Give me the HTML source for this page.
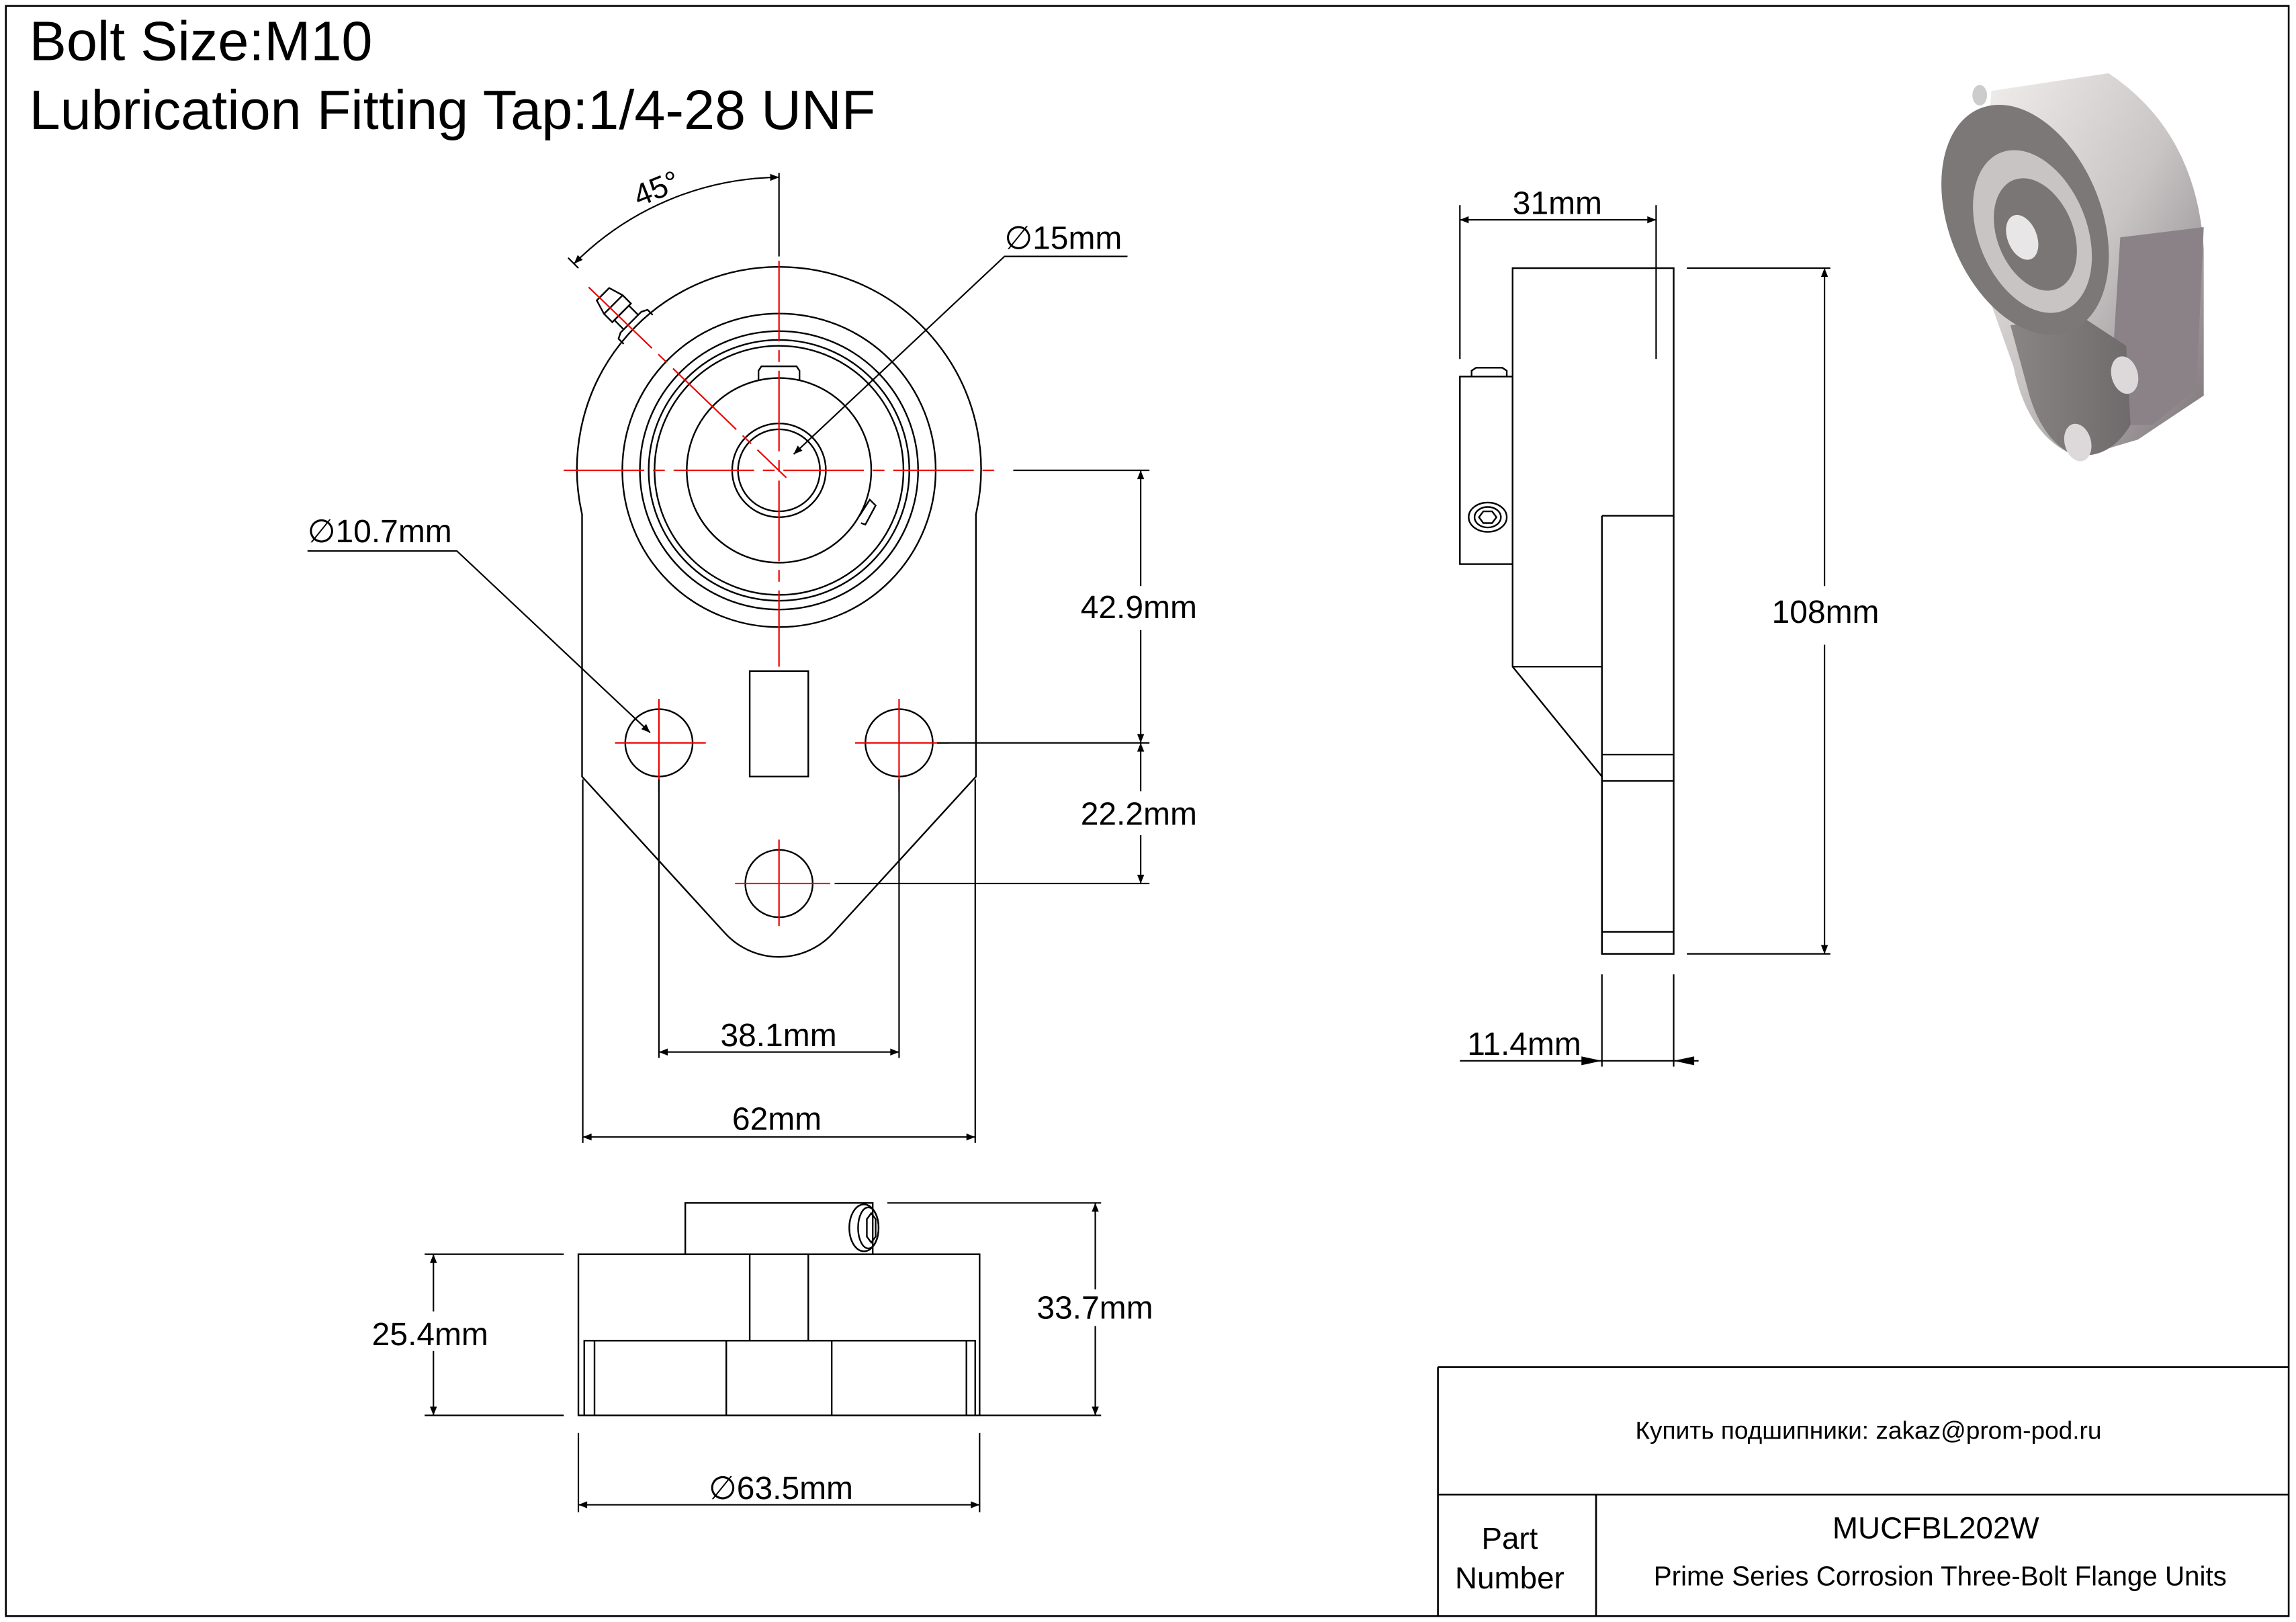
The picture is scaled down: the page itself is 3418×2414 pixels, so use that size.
<!DOCTYPE html>
<html><head><meta charset="utf-8"><style>
html,body{margin:0;padding:0;background:#fff;}
svg{display:block;}
text{font-family:"Liberation Sans",sans-serif;fill:#000;}
</style></head><body>
<svg width="3418" height="2414" viewBox="0 0 1568 1107" preserveAspectRatio="none" xmlns="http://www.w3.org/2000/svg">
<defs>
<marker id="a" viewBox="0 0 10 10" refX="10" refY="5" markerWidth="14" markerHeight="6" orient="auto-start-reverse" markerUnits="userSpaceOnUse"><path d="M0,1 L10,5 L0,9 z" fill="#000"/></marker>
<linearGradient id="g1" x1="0" y1="0" x2="1" y2="1"><stop offset="0" stop-color="#f2efee"/><stop offset="0.5" stop-color="#c9c5c5"/><stop offset="1" stop-color="#7a7276"/></linearGradient>
<linearGradient id="g2" x1="0" y1="0" x2="1" y2="0"><stop offset="0" stop-color="#8a8585"/><stop offset="1" stop-color="#6f6a6b"/></linearGradient>
</defs>
<rect x="4" y="4" width="1559" height="1099" fill="none" stroke="#000" stroke-width="1.2"/>
<text x="20" y="41" font-size="38">Bolt Size:M10</text>
<text x="20" y="88" font-size="38">Lubrication Fitting Tap:1/4-28 UNF</text>

<g fill="none" stroke="#000" stroke-width="1.1">
<!-- front view -->
<path d="M397.5,351 A138,138 0 1 1 666.5,351 L666.5,530 L569.2,636.5 A50,50 0 0 1 494.8,636.5 L397.5,530 Z"/>
<circle cx="532" cy="321" r="107"/>
<circle cx="532" cy="321" r="95"/>
<circle cx="532" cy="321" r="89"/>
<circle cx="532" cy="321" r="85"/>
<circle cx="532" cy="321" r="63"/>
<circle cx="532" cy="321" r="32"/>
<circle cx="532" cy="321" r="28"/>
<path d="M518,260 L518,253 L520,250 L544,250 L546,253 L546,260"/>
<path d="M587,352 L594,341 L598,345 L591,358 L588,357"/>
<g transform="translate(532,321) rotate(-135)">
<path d="M136,-14 L141,-14 L143,-10 L143,10 L141,14 L136,14"/>
<path d="M143,-7 L152,-7 L152,7 L143,7"/>
<path d="M152,-9 L160,-9 L170,-6 L170,6 L160,9 L152,9 Z"/>
<path d="M160,-9 V9"/>
</g>
<rect x="512" y="458" width="40" height="72"/>
<circle cx="450" cy="507" r="23"/>
<circle cx="614" cy="507" r="23"/>
<circle cx="532" cy="603" r="23"/>
</g>
<g stroke="#e00" stroke-width="1" fill="none">
<path d="M532,178 V455" stroke-dasharray="55,6,8,6"/>
<path d="M385,321 H680" stroke-dasharray="55,6,8,6"/>
<path d="M402,196 L537,326" stroke-dasharray="60,6,8,6"/>
<path d="M420,507 H482 M450,477 V540 M584,507 H648 M614,477 V540 M502,603 H567 M532,573 V632"/>
</g>
<!-- front dims -->
<g stroke="#000" stroke-width="1" fill="none">
<path d="M532,118 V175"/>
<path d="M388,176 L395,183"/>
<path d="M392,180 A200,200 0 0 1 532,121" marker-start="url(#a)" marker-end="url(#a)"/>
<path d="M770,175 H686 L542,310" marker-end="url(#a)"/>
<path d="M210,376 H312 L444,500" marker-end="url(#a)"/>
<path d="M692,321 H785 M640,507 H785 M570,603 H785"/>
<path d="M779,400 V321" marker-end="url(#a)"/>
<path d="M779,430 V507" marker-end="url(#a)"/>
<path d="M779,507 V540" marker-start="url(#a)"/>
<path d="M779,570 V603" marker-end="url(#a)"/>
<path d="M450,532 V722 M614,532 V722"/>
<path d="M450,718 H614" marker-start="url(#a)" marker-end="url(#a)"/>
<path d="M398,532 V780 M666,532 V780"/>
<path d="M398,776 H666" marker-start="url(#a)" marker-end="url(#a)"/>
</g>
<text x="432" y="137" font-size="21" transform="rotate(-22 445 128)">45°</text>
<text x="686" y="170" font-size="22">∅15mm</text>
<text x="210" y="370" font-size="22">∅10.7mm</text>
<text x="738" y="422" font-size="22">42.9mm</text>
<text x="738" y="563" font-size="22">22.2mm</text>
<text x="492" y="714" font-size="22">38.1mm</text>
<text x="500" y="771" font-size="22">62mm</text>

<!-- side view -->
<g fill="none" stroke="#000" stroke-width="1.1">
<path d="M1033,183 H1143 V651 H1094 V530 L1033,455 Z"/>
<path d="M1033,455 H1094 M1094,352 H1143 M1094,352 V651 M1094,515 H1143 M1094,533 H1143 M1094,636 H1143"/>
<rect x="997" y="257" width="36" height="128"/>
<path d="M1005,257 L1005,253 L1008,251 L1026,251 L1029,253 L1029,257"/>
<ellipse cx="1016" cy="353" rx="13" ry="10"/>
<ellipse cx="1016" cy="353" rx="9" ry="7"/>
<path d="M1010,353 L1013,349 H1019 L1022,353 L1019,357 H1013 Z"/>
</g>
<g stroke="#000" stroke-width="1" fill="none">
<path d="M997,140 V245 M1131,140 V245"/>
<path d="M997,150 H1131" marker-start="url(#a)" marker-end="url(#a)"/>
<path d="M1152,183 H1250 M1152,651 H1250"/>
<path d="M1246,400 V183" marker-end="url(#a)"/>
<path d="M1246,440 V651" marker-end="url(#a)"/>
<path d="M1094,665 V728 M1143,665 V728"/>
<path d="M997,724 H1143"/>
</g>
<path d="M1094,724 L1080,721 L1080,727 Z" fill="#000"/>
<path d="M1143,724 L1157,721 L1157,727 Z" fill="#000"/>
<path d="M1143,724 H1160" stroke="#000" stroke-width="1"/>
<text x="1033" y="146" font-size="22">31mm</text>
<text x="1210" y="425" font-size="22">108mm</text>
<text x="1002" y="720" font-size="22">11.4mm</text>

<!-- bottom view -->
<g fill="none" stroke="#000" stroke-width="1.1">
<rect x="395" y="856" width="274" height="110"/>
<path d="M468,856 V821 H596 V856"/>
<path d="M512,856 V915 M552,856 V915"/>
<path d="M399,966 V915 H666 V966 M406,915 V966 M496,915 V966 M568,915 V966 M660,915 V966"/>
<ellipse cx="590" cy="838" rx="10" ry="16"/>
<ellipse cx="593" cy="838" rx="7" ry="14"/>
<path d="M592,832 L595,828 L598,832 V844 L595,848 L592,844 Z"/>
</g>
<g stroke="#000" stroke-width="1" fill="none">
<path d="M290,856 H385 M290,966 H385"/>
<path d="M296,895 V856" marker-end="url(#a)"/>
<path d="M296,922 V966" marker-end="url(#a)"/>
<path d="M606,821 H752 M669,966 H752"/>
<path d="M748,880 V821" marker-end="url(#a)"/>
<path d="M748,905 V966" marker-end="url(#a)"/>
<path d="M395,978 V1032 M669,978 V1032"/>
<path d="M395,1027 H669" marker-start="url(#a)" marker-end="url(#a)"/>
</g>
<text x="254" y="918" font-size="22">25.4mm</text>
<text x="708" y="900" font-size="22">33.7mm</text>
<text x="484" y="1023" font-size="22">∅63.5mm</text>

<!-- 3D render approx -->
<g>
<path d="M1360,62 L1440,50 Q1500,90 1505,170 L1505,270 L1460,300 L1420,312 Q1385,300 1375,250 L1350,180 Z" fill="url(#g1)"/>
<path d="M1448,162 L1505,155 L1500,265 L1470,290 L1440,290 Z" fill="#8a8286"/>
<path d="M1373,222 L1420,215 L1452,236 L1455,290 Q1440,315 1415,310 Q1395,300 1386,270 Z" fill="url(#g2)"/>
<ellipse cx="1383" cy="150" rx="52" ry="82" transform="rotate(-22 1383 150)" fill="#7c7878"/>
<ellipse cx="1388" cy="158" rx="37" ry="58" transform="rotate(-22 1388 158)" fill="#c8c4c4"/>
<ellipse cx="1390" cy="160" rx="26" ry="40" transform="rotate(-22 1390 160)" fill="#7a7676"/>
<ellipse cx="1381" cy="162" rx="10" ry="16" transform="rotate(-22 1381 162)" fill="#e8e6e6"/>
<ellipse cx="1451" cy="256" rx="9" ry="13" transform="rotate(-15 1451 256)" fill="#ddd9da"/>
<ellipse cx="1419" cy="302" rx="9" ry="13" transform="rotate(-15 1419 302)" fill="#ddd9da"/>
<ellipse cx="1352" cy="65" rx="5" ry="7" fill="#ccc"/>
</g>

<!-- title block -->
<g fill="none" stroke="#000" stroke-width="1.2">
<path d="M982,933 H1563 M982,933 V1103 M982,1020 H1563 M1090,1020 V1103"/>
</g>
<text x="1276" y="982" font-size="17" text-anchor="middle">Купить подшипники: zakaz@prom-pod.ru</text>
<text x="1031" y="1057" font-size="21" text-anchor="middle">Part</text>
<text x="1031" y="1084" font-size="21" text-anchor="middle">Number</text>
<text x="1322" y="1050" font-size="21" text-anchor="middle">MUCFBL202W</text>
<text x="1325" y="1082" font-size="18.5" text-anchor="middle">Prime Series Corrosion Three-Bolt Flange Units</text>
</svg>
</body></html>
